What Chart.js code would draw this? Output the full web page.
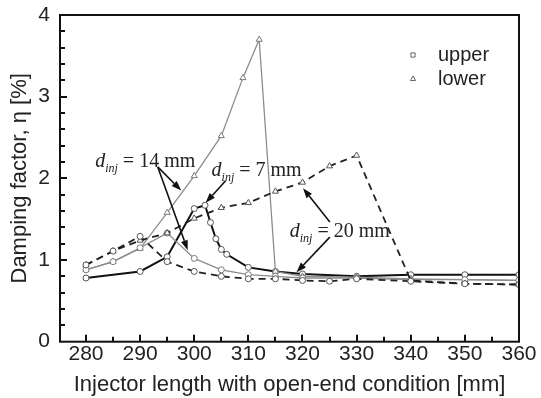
<!DOCTYPE html>
<html>
<head>
<meta charset="utf-8">
<script src="https://cdn.jsdelivr.net/npm/chart.js@4.4.1/dist/chart.umd.min.js"></script>
<style>
html,body{margin:0;padding:0;background:#fff;}
#wrap{width:541px;height:398px;position:relative;}
</style>
</head>
<body>
<div id="wrap"><canvas id="c" width="541" height="398"></canvas></div>
<script>
// ---- data ----
const x7   = [280,290,295,300,302,303,304,305,306,310,315,320,330,340,350,360];
const y7   = [0.78,0.86,1.04,1.63,1.67,1.46,1.26,1.13,1.07,0.91,0.86,0.83,0.80,0.82,0.82,0.82];

const x14L = [280,285,290,295,300,305,309,312,315,320,330,340,350,360];
const y14L = [0.88,0.98,1.14,1.58,2.03,2.52,3.23,3.70,0.86,0.80,0.79,0.77,0.76,0.75];

const x14U = [280,285,290,295,300,305,310,315,320,330,340,350,360];
const y14U = [0.88,0.98,1.15,1.33,1.02,0.88,0.82,0.80,0.78,0.78,0.76,0.76,0.75];

const x20L = [280,285,290,295,300,305,310,315,320,325,330,340,350,360];
const y20L = [0.94,1.11,1.24,1.33,1.51,1.64,1.70,1.84,1.95,2.15,2.28,0.75,0.71,0.70];

const x20U = [280,285,290,295,300,305,310,315,320,325,330,340,350,360];
const y20U = [0.94,1.11,1.29,0.98,0.86,0.80,0.77,0.77,0.75,0.74,0.77,0.74,0.71,0.70];

const xTickValues = [280,290,300,310,320,330,340,350,360];
const yTickValues = [0,1,2,3,4];
const xMinorStep = 5;
const yMinorStep = 0.2;

const legendLabels = ['upper','lower'];
const xTitle = 'Injector length with open-end condition [mm]';
const yTitle = 'Damping factor, \u03B7 [%]';

// annotation labels: value of d_inj, anchor (data coords, left/baseline)
const labelValues = ['14','7','20'];
const labelX = [281.7, 303.2, 317.65];
const labelY = [2.14, 2.03, 1.28];
// arrows: start/end in data coords
const arrowX0 = [293.26, 293.26, 305.8, 325.05, 325.05];
const arrowY0 = [2.14, 2.14, 1.97, 1.465, 1.28];
const arrowX1 = [297.6, 298.8, 302.1, 320.1, 318.9];
const arrowY1 = [1.85, 1.12, 1.70, 1.88, 0.85];

const pts = (xs, ys) => xs.map((x, i) => ({x: x, y: ys[i]}));

const GRAY = '#8c8c8c';
const BLACK = '#111111';
const DASH = '#222222';

function ds(data, color, width, style, dash, radius) {
  return {
    data: data, showLine: true, borderColor: color, borderWidth: width,
    borderDash: dash || [], pointStyle: style, pointRadius: radius,
    pointBackgroundColor: '#ffffff', pointBorderColor: color === GRAY ? '#7a7a7a' : '#555555',
    pointBorderWidth: 1, tension: 0, fill: false
  };
}

const datasets = [
  ds(pts(x20U, y20U), DASH, 1.8, 'circle', [7,5], 3),
  ds(pts(x20L, y20L), DASH, 1.8, 'triangle', [7,5], 3.5),
  ds(pts(x14U, y14U), GRAY, 1.3, 'circle', null, 3),
  ds(pts(x14L, y14L), GRAY, 1.3, 'triangle', null, 3.5),
  ds(pts(x7, y7), BLACK, 2, 'circle', null, 3)
];

const SANS = '"Liberation Sans", Arial, Helvetica, sans-serif';
const SERIF = '"Liberation Serif", "Times New Roman", serif';

function drawTicks(ctx, a, xs, ys) {
  ctx.save();
  ctx.setLineDash([]);
  ctx.strokeStyle = '#111111';
  ctx.lineWidth = 2;
  ctx.beginPath();
  const x0 = xTickValues[0], x1 = xTickValues[xTickValues.length - 1];
  const nX = Math.round((x1 - x0) / xMinorStep);
  for (let k = 0; k < nX; k++) {
    const p = Math.round(xs.getPixelForValue(x0 + k * xMinorStep));
    const len = (k % 2 === 0) ? 7 : 5;
    ctx.moveTo(p, a.bottom);
    ctx.lineTo(p, a.bottom - len);
  }
  const nY = Math.round((yTickValues[yTickValues.length - 1] - yTickValues[0]) / yMinorStep);
  for (let k = 1; k < nY; k++) {
    const p = Math.round(ys.getPixelForValue(yTickValues[0] + k * yMinorStep));
    const len = (k % 5 === 0) ? 7 : 5;
    ctx.moveTo(a.left, p);
    ctx.lineTo(a.left + len, p);
  }
  ctx.stroke();
  ctx.restore();
}

const decor = {
  id: 'decor',
  afterDraw(chart) {
    const ctx = chart.ctx;
    const a = chart.chartArea;
    const xs = chart.scales.x, ys = chart.scales.y;
    ctx.save();
    ctx.setLineDash([]);
    ctx.strokeStyle = '#111';
    ctx.lineWidth = 2;
    ctx.strokeRect(a.left, a.top, a.right - a.left, a.bottom - a.top);
    ctx.restore();
    drawTicks(ctx, a, xs, ys);
    ctx.save();
    // legend
    const lx = a.right - 106, ly0 = a.top + 40;
    const styles = ['rect', 'triangle'];
    legendLabels.forEach((lab, i) => {
      const y = ly0 + i * 24;
      ctx.fillStyle = '#ffffff';
      ctx.strokeStyle = '#666';
      ctx.lineWidth = 1;
      Chart.helpers.drawPoint(ctx, {pointStyle: styles[i], radius: 3, borderWidth: 1}, lx, y);
      ctx.fillStyle = '#222';
      ctx.font = '20px ' + SANS;
      ctx.textBaseline = 'middle';
      ctx.textAlign = 'left';
      ctx.fillText(lab, lx + 25, y);
    });
    // arrows
    ctx.strokeStyle = '#111';
    ctx.fillStyle = '#111';
    ctx.lineWidth = 1.6;
    arrowX0.forEach((xa, i) => {
      const px0 = xs.getPixelForValue(xa), py0 = ys.getPixelForValue(arrowY0[i]);
      const px1 = xs.getPixelForValue(arrowX1[i]), py1 = ys.getPixelForValue(arrowY1[i]);
      const ang = Math.atan2(py1 - py0, px1 - px0);
      const hl = 10, hw = 3.5;
      const bx = px1 - hl * Math.cos(ang), by = py1 - hl * Math.sin(ang);
      ctx.beginPath(); ctx.moveTo(px0, py0); ctx.lineTo(bx, by); ctx.stroke();
      ctx.beginPath();
      ctx.moveTo(px1, py1);
      ctx.lineTo(bx + hw * Math.sin(ang), by - hw * Math.cos(ang));
      ctx.lineTo(bx - hw * Math.sin(ang), by + hw * Math.cos(ang));
      ctx.closePath(); ctx.fill();
    });
    // labels
    ctx.fillStyle = '#222';
    ctx.textBaseline = 'alphabetic';
    ctx.textAlign = 'left';
    labelValues.forEach((val, i) => {
      let px = xs.getPixelForValue(labelX[i]);
      const py = ys.getPixelForValue(labelY[i]);
      ctx.font = 'italic 20px ' + SERIF;
      ctx.fillText('d', px, py);
      px += ctx.measureText('d').width;
      ctx.font = 'italic 12px ' + SERIF;
      ctx.fillText('inj', px, py + 5);
      px += ctx.measureText('inj').width;
      ctx.font = '20px ' + SERIF;
      ctx.fillText(' = ' + val + ' mm', px, py);
    });
    ctx.restore();
  }
};

new Chart(document.getElementById('c'), {
  type: 'scatter',
  data: { datasets: datasets },
  options: {
    responsive: false,
    animation: false,
    layout: { padding: { top: 15, right: 22, left: 0, bottom: 0 } },
    plugins: { legend: { display: false }, tooltip: { enabled: false } },
    scales: {
      x: {
        type: 'linear', min: 275.2, max: 360,
        afterBuildTicks: s => { s.ticks = xTickValues.map(v => ({value: v})); },
        afterFit: s => { s.height = 56.3; s.paddingLeft = 0; s.paddingRight = 0; },
        ticks: {
          padding: 0, color: '#222',
          font: { family: SANS, size: 21 },
          maxRotation: 0, autoSkip: false,
          callback: v => String(v)
        },
        grid: { display: false, drawTicks: false },
        border: { display: false },
        title: { display: true, text: xTitle, color: '#222',
          font: { family: SANS, size: 22 }, padding: { top: 0, bottom: 0 } }
      },
      y: {
        type: 'linear', min: 0, max: 4,
        afterBuildTicks: s => { s.ticks = yTickValues.map(v => ({value: v})); },
        afterFit: s => { s.width = 60; s.paddingTop = 0; s.paddingBottom = 0; },
        ticks: {
          padding: 10, color: '#222',
          font: { family: SANS, size: 21 }, autoSkip: false,
          callback: v => String(v)
        },
        grid: { display: false, drawTicks: false },
        border: { display: false },
        title: { display: true, text: yTitle, color: '#222',
          font: { family: SANS, size: 22 }, padding: { top: 7, bottom: 0 } }
      }
    }
  },
  plugins: [decor]
});
</script>
</body>
</html>
